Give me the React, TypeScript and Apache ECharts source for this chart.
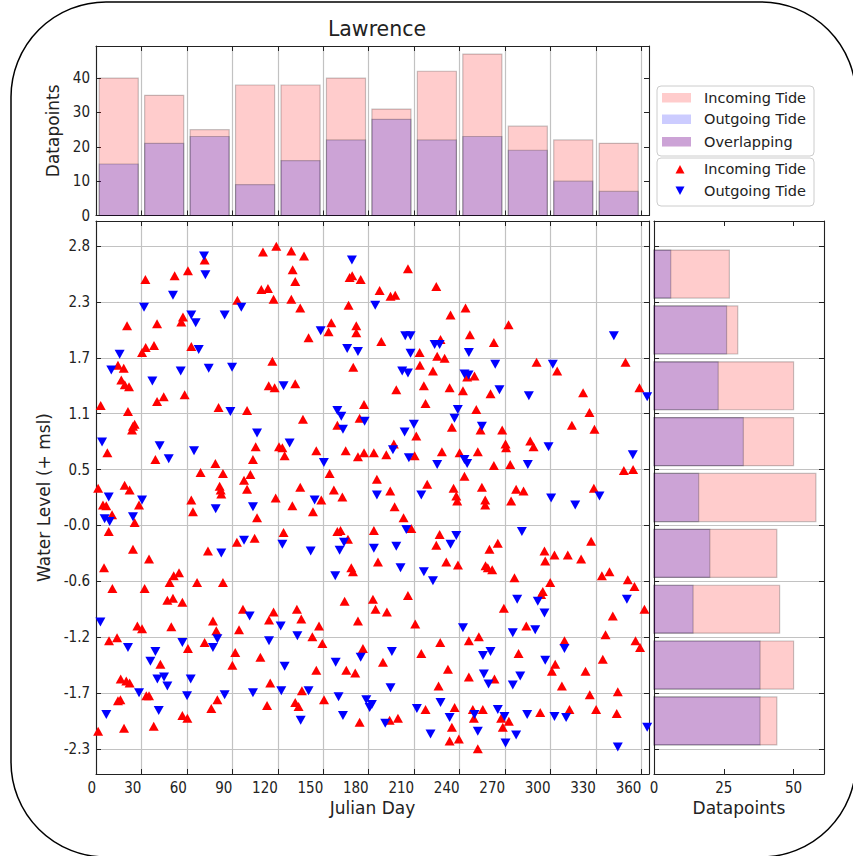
import React, { useEffect, useRef } from "react";
import * as echarts from "echarts";

// ---------------- data ----------------
const TITLE = "Lawrence";

const DAY_TICKS = [0, 30, 60, 90, 120, 150, 180, 210, 240, 270, 300, 330, 360];
const DAY_BIN_EDGES = [0, 30, 60, 90, 120, 150, 180, 210, 240, 270, 300, 330, 360];
const DAY_HIST_INCOMING = [40, 35, 25, 38, 38, 40, 31, 42, 47, 26, 22, 21];
const DAY_HIST_OUTGOING = [15, 21, 23, 9, 16, 22, 28, 22, 23, 19, 10, 7];

const LEVEL_BIN_EDGES = [-2.29, -1.722, -1.154, -0.587, -0.019, 0.549, 1.117, 1.684, 2.252, 2.82];
const LEVEL_TICK_LABELS = ["-2.3", "-1.7", "-1.2", "-0.6", "-0.0", "0.5", "1.1", "1.7", "2.3", "2.8"];
// bins from lowest to highest water level
const LEVEL_HIST_INCOMING = [44, 50, 45, 44, 58, 50, 50, 30, 27];
const LEVEL_HIST_OUTGOING = [38, 38, 14, 20, 16, 32, 23, 26, 6];

const TOP_COUNT_TICKS = [0, 10, 20, 30, 40];
const RIGHT_COUNT_TICKS = [0, 25, 50];

const DAY_RANGE = [0, 365];
const LEVEL_RANGE = [-2.5455, 3.0755];
const TOP_COUNT_MAX = 49.35;
const RIGHT_COUNT_MAX = 60.9;

// [julian day, water level]
const INCOMING_POINTS = [
  [110.2, 2.76], [119.0, 2.82], [128.9, 2.77], [137.3, 2.72], [71.7, 2.68], [60.7, 2.57], [51.9, 2.52], [32.6, 2.48],
  [129.8, 2.58], [131.5, 2.46], [109.1, 2.38], [113.5, 2.39], [117.2, 2.28], [128.9, 2.28], [134.8, 2.19], [93.3, 2.27],
  [167.4, 2.5], [169.1, 2.52], [174.7, 2.48], [166.7, 2.22], [155.3, 2.04], [153.5, 1.95], [171.8, 2.01], [171.8, 1.94],
  [140.3, 1.89], [20.5, 2.01], [40.3, 2.03], [57.4, 2.1], [56.3, 2.05], [62.9, 1.8], [32.8, 1.79], [30.4, 1.74],
  [38.3, 1.81], [116.4, 1.65], [169.8, 1.59], [14.5, 1.61], [18.3, 1.58], [16.7, 1.46], [19.0, 1.41], [21.8, 1.39],
  [114.0, 1.4], [117.9, 1.38], [131.5, 1.42], [58.5, 1.31], [44.7, 1.29], [40.3, 1.24],
  [205.9, 2.59], [187.2, 2.37], [194.4, 2.31], [197.5, 2.32], [224.6, 2.41], [234.0, 2.12], [243.9, 2.19], [272.3, 2.02],
  [188.3, 1.85], [227.4, 1.87], [246.8, 1.92], [262.6, 1.84], [213.6, 1.74], [225.2, 1.7], [230.1, 1.68], [213.8, 1.61],
  [222.4, 1.55], [245.0, 1.49], [249.8, 1.5], [290.8, 1.64], [304.4, 1.55], [349.5, 1.64], [198.2, 1.36], [216.4, 1.4],
  [233.4, 1.38], [242.2, 1.35], [260.4, 1.32], [321.5, 1.33], [358.7, 1.38],
  [3.1, 1.2], [21.1, 1.14], [24.4, 0.99], [25.5, 1.01], [23.8, 0.95], [80.9, 1.18], [99.7, 1.15], [136.6, 1.06],
  [176.9, 1.21], [174.0, 1.07], [159.3, 1.0], [7.5, 0.72], [39.2, 0.65], [105.4, 0.78], [103.6, 0.65], [120.8, 0.78],
  [123.0, 0.77], [124.5, 0.69], [145.4, 0.74], [164.8, 0.74], [172.9, 0.68], [176.9, 0.72], [69.0, 0.52], [78.8, 0.61],
  [83.8, 0.51], [81.6, 0.38], [82.3, 0.34], [82.7, 0.3], [97.7, 0.44], [101.9, 0.5], [99.7, 0.35], [154.2, 0.51],
  [18.9, 0.39], [22.2, 0.34], [1.4, 0.36], [4.6, 0.19], [6.8, 0.18], [10.6, 0.09], [28.4, 0.19], [25.5, 0.01],
  [62.9, 0.24], [64.0, 0.12], [106.3, 0.06], [118.6, 0.26], [129.6, 0.18], [134.8, 0.37], [143.2, 0.12], [148.7, 0.24],
  [157.0, 0.34], [162.6, 0.27], [8.4, -0.08], [24.4, -0.26], [35.0, -0.36], [5.3, -0.45], [73.9, -0.28], [93.0, -0.19],
  [104.7, -0.15], [123.8, -0.09], [159.3, -0.08], [161.4, -0.07], [166.3, -0.16], [168.5, -0.45], [169.6, -0.49],
  [51.3, -0.53], [54.8, -0.5],
  [217.5, 1.22], [251.0, 1.16], [325.7, 1.13], [211.4, 0.89], [234.9, 0.98], [253.8, 0.95], [268.1, 0.95], [270.3, 0.81],
  [270.7, 0.77], [286.6, 0.84], [288.8, 0.78], [314.1, 1.0], [329.0, 0.96], [183.4, 0.72], [191.6, 0.7], [196.6, 0.81],
  [210.3, 0.69], [228.3, 0.73], [240.0, 0.72], [252.0, 0.73], [262.6, 0.59], [273.4, 0.6], [348.4, 0.54], [354.5, 0.55],
  [185.4, 0.45], [194.2, 0.33], [218.6, 0.4], [236.0, 0.36], [237.8, 0.28], [238.4, 0.23], [243.2, 0.48], [254.7, 0.37],
  [256.9, 0.24], [256.9, 0.19], [274.0, 0.23], [277.3, 0.35], [282.2, 0.33], [328.6, 0.36], [197.1, 0.17], [203.0, 0.06],
  [208.1, -0.05], [183.4, -0.07], [226.8, -0.11], [224.6, -0.22], [265.2, -0.2], [259.7, -0.26], [186.1, -0.39],
  [231.2, -0.39], [238.9, -0.42], [258.6, -0.45], [261.5, -0.47], [257.1, -0.43], [276.2, -0.55], [296.0, -0.28],
  [302.6, -0.32], [296.5, -0.38], [311.4, -0.32], [320.2, -0.36], [326.8, -0.18], [333.9, -0.53], [338.9, -0.49],
  [351.0, -0.57], [355.4, -0.64], [299.8, -0.6],
  [10.8, -0.66], [32.1, -0.66], [48.6, -0.6], [66.7, -0.6], [83.8, -0.6], [47.1, -0.78], [50.8, -0.76], [57.0, -0.8],
  [27.3, -1.04], [30.4, -1.07], [49.7, -1.05], [8.6, -1.19], [13.9, -1.16], [77.2, -0.99], [79.4, -1.09], [71.7, -1.21],
  [60.7, -1.27], [42.5, -1.43], [16.3, -1.58], [20.0, -1.6], [22.2, -1.62], [16.1, -1.79], [14.5, -1.8], [33.2, -1.75],
  [35.0, -1.75], [38.1, -2.06], [18.5, -2.08], [1.4, -2.11], [57.0, -1.95], [60.3, -1.98], [76.1, -1.88], [80.1, -1.79],
  [90.0, -1.44], [91.9, -1.31], [94.4, -1.08], [97.0, -0.87], [108.5, -1.36], [112.9, -1.85], [115.0, -1.62],
  [114.2, -0.98], [117.2, -0.9], [132.6, -0.87], [135.5, -0.97], [131.5, -1.82], [133.7, -1.86], [135.9, -1.7],
  [142.8, -1.15], [147.2, -1.04], [149.4, -1.22], [145.4, -1.49], [150.5, -1.79], [164.1, -0.79], [165.2, -1.49],
  [171.1, -1.52], [176.2, -1.27], [172.9, -0.99], [174.0, -2.02],
  [182.8, -0.77], [184.5, -0.87], [192.0, -0.9], [205.9, -0.73], [210.7, -1.02], [227.2, -1.21], [214.7, -1.32],
  [189.4, -1.41], [232.3, -1.48], [246.1, -1.19], [252.7, -1.15], [226.1, -1.65], [246.1, -1.56], [263.0, -1.58],
  [269.2, -0.86], [278.9, -1.32], [284.0, -1.04], [294.9, -0.69], [293.8, -0.72], [309.2, -1.19], [303.1, -1.43],
  [300.9, -1.5], [307.5, -1.65], [323.1, -1.5], [334.5, -1.38], [336.3, -1.13], [341.1, -0.94], [325.9, -1.74],
  [344.4, -1.71], [356.1, -1.19], [359.1, -1.26], [362.0, -0.87], [217.5, -1.89], [199.3, -1.98], [193.8, -2.0],
  [236.7, -1.87], [234.9, -2.07], [233.4, -2.21], [239.5, -2.19], [248.7, -1.89], [249.4, -1.98], [255.3, -1.89],
  [252.0, -2.29], [267.4, -1.98], [272.5, -2.01], [268.5, -2.07], [293.2, -1.92], [312.5, -1.89], [330.1, -1.89],
  [343.7, -1.93],
];

const OUTGOING_POINTS = [
  [71.3, 2.72], [72.2, 2.53], [168.9, 2.68], [50.8, 2.32], [31.7, 2.2], [95.9, 2.2], [84.9, 2.12], [62.9, 2.12],
  [65.8, 2.04], [67.8, 1.77], [148.3, 1.96], [165.8, 1.78], [172.9, 1.75], [15.6, 1.72], [10.1, 1.56], [55.9, 1.55],
  [74.4, 1.58], [89.8, 1.59], [37.2, 1.45], [123.8, 1.4],
  [184.3, 2.22], [204.1, 1.91], [207.6, 1.91], [207.6, 1.73], [223.5, 1.82], [226.8, 1.82], [246.1, 1.74], [202.1, 1.55],
  [205.9, 1.53], [243.2, 1.52], [245.9, 1.51], [263.5, 1.62], [301.5, 1.62], [266.3, 1.36], [285.7, 1.3], [341.8, 1.91],
  [363.8, 1.29],
  [88.7, 1.14], [159.3, 1.15], [161.9, 1.09], [163.0, 0.96], [177.3, 1.04], [106.3, 0.92], [4.0, 0.83], [42.0, 0.79],
  [48.0, 0.66], [64.7, 0.74], [127.8, 0.82], [150.4, 0.62], [8.4, 0.27], [30.4, 0.24], [5.7, 0.05], [9.0, 0.02],
  [24.4, 0.07], [79.0, 0.15], [103.6, 0.17], [144.3, 0.24], [97.7, -0.17], [82.7, -0.3], [123.0, -0.21], [141.7, -0.28],
  [160.8, -0.27], [163.7, -0.19], [157.9, -0.53],
  [238.8, 1.16], [236.6, 1.07], [209.8, 1.01], [203.7, 0.93], [254.7, 0.99], [196.0, 0.75], [206.5, 0.67], [225.2, 0.6],
  [243.2, 0.65], [245.0, 0.61], [285.0, 0.6], [298.7, 0.78], [354.3, 0.7], [185.4, 0.29], [214.7, 0.29], [300.4, 0.26],
  [316.3, 0.19], [332.3, 0.28], [204.8, -0.06], [281.1, -0.08], [237.8, -0.12], [234.0, -0.21], [183.4, -0.25],
  [198.2, -0.23], [201.0, -0.45], [216.4, -0.49], [222.4, -0.58],
  [2.9, -1.0], [21.1, -1.26], [35.9, -1.4], [39.2, -1.3], [40.5, -1.58], [44.9, -1.56], [47.1, -1.65], [28.4, -1.72],
  [6.8, -1.94], [41.4, -1.9], [57.0, -1.21], [62.5, -1.58], [60.1, -1.75], [77.2, -1.26], [80.1, -1.17], [84.9, -1.74],
  [101.4, -0.94], [103.6, -1.72], [114.2, -1.19], [121.9, -1.04], [124.5, -1.45], [122.3, -1.7], [132.9, -1.14],
  [140.3, -1.7], [135.1, -2.0], [158.2, -1.41], [160.1, -1.76], [163.0, -1.95], [174.7, -1.36], [178.4, -1.79],
  [242.2, -1.06], [275.1, -1.11], [278.0, -0.77], [291.6, -0.79], [296.0, -0.91], [289.9, -1.08], [195.3, -1.3],
  [255.4, -1.34], [260.4, -1.3], [296.5, -1.39], [309.2, -1.27], [256.0, -1.53], [259.1, -1.63], [280.0, -1.55],
  [275.1, -1.64], [194.4, -1.67], [182.1, -1.84], [180.6, -1.87], [211.8, -1.88], [227.4, -1.82], [233.4, -1.97],
  [249.8, -1.94], [265.2, -1.89], [269.6, -1.96], [284.6, -1.94], [302.6, -1.96], [310.3, -1.97], [190.9, -2.03],
  [220.8, -2.14], [252.0, -2.11], [277.3, -2.15], [270.3, -2.23], [344.4, -2.27], [350.4, -0.77], [363.8, -2.07],
];

// ---------------- styling ----------------
const FONT = "'DejaVu Sans', 'Noto Sans', sans-serif";
const TICK_FONT = "'DejaVu Sans Condensed', 'Liberation Sans Narrow', 'DejaVu Sans', sans-serif";
const TEXT = "#222";
const SPINE = "#222";
const GRIDLINE = "#c2c2c2";
const RED_A = "rgba(255,0,0,0.2)";
const BLUE_A = "rgba(0,0,255,0.2)";
const EDGE = "rgba(0,0,0,0.22)";
const RWIDTH = 0.86;

const G_TOP = { left: 96, top: 46, width: 553, height: 169.5 };
const G_MAIN = { left: 96, top: 221, width: 553, height: 553 };
const G_RIGHT = { left: 654, top: 221, width: 170, height: 553 };

function mkBins(edges: number[], counts: number[]) {
  return counts.map((c, i) => [edges[i], edges[i + 1], c]);
}

function vBar(fill: string) {
  return (_p: any, api: any) => {
    const lo = api.value(0), hi = api.value(1), n = api.value(2);
    const pad = ((hi - lo) * (1 - RWIDTH)) / 2;
    const a = api.coord([lo + pad, n]);
    const b = api.coord([hi - pad, 0]);
    return {
      type: "rect",
      shape: { x: a[0], y: a[1], width: b[0] - a[0], height: b[1] - a[1] },
      style: { fill, stroke: EDGE, lineWidth: 1.2 },
    };
  };
}

function hBar(fill: string) {
  return (_p: any, api: any) => {
    const lo = api.value(0), hi = api.value(1), n = api.value(2);
    const pad = ((hi - lo) * (1 - RWIDTH)) / 2;
    const a = api.coord([0, hi - pad]);
    const b = api.coord([n, lo + pad]);
    return {
      type: "rect",
      shape: { x: a[0], y: a[1], width: b[0] - a[0], height: b[1] - a[1] },
      style: { fill, stroke: EDGE, lineWidth: 1.2 },
    };
  };
}

function nearestLabel(v: number) {
  let best = 0;
  for (let i = 1; i < LEVEL_BIN_EDGES.length; i++) {
    if (Math.abs(LEVEL_BIN_EDGES[i] - v) < Math.abs(LEVEL_BIN_EDGES[best] - v)) best = i;
  }
  return LEVEL_TICK_LABELS[best];
}

const tickStyle = (vals: number[]) => ({
  show: true,
  inside: true,
  length: 5,
  customValues: vals,
  lineStyle: { color: SPINE, width: 1 },
});
const lineStyle = { show: true, onZero: false, lineStyle: { color: SPINE, width: 1.1 } };
const labelStyle = (vals: number[], extra: any = {}) => ({
  show: true,
  customValues: vals,
  color: TEXT,
  fontFamily: TICK_FONT,
  fontSize: 15,
  margin: 6,
  ...extra,
});

function mirrorAxis(gridIndex: number, position: string, min: number, max: number, ticks: number[]) {
  return {
    type: "value",
    gridIndex,
    position,
    min,
    max,
    axisLine: lineStyle,
    axisTick: tickStyle(ticks),
    axisLabel: { show: false, customValues: ticks },
    splitLine: { show: false },
  };
}

export default function App() {
  const ref = useRef<HTMLDivElement>(null);

  useEffect(() => {
    if (!ref.current) return;
    const chart = echarts.init(ref.current, undefined, { renderer: "svg" });

    const nameStyle = { color: TEXT, fontFamily: FONT, fontSize: 17 };

    const option: any = {
      animation: false,
      backgroundColor: "#ffffff",
      title: {
        text: TITLE,
        left: 372,
        top: 13,
        textAlign: "center",
        textStyle: { color: TEXT, fontFamily: FONT, fontSize: 20.5, fontWeight: "normal" },
      },
      grid: [
        { ...G_TOP, show: false },
        { ...G_MAIN, show: false },
        { ...G_RIGHT, show: false },
      ],
      xAxis: [
        {
          type: "value", gridIndex: 0, position: "bottom", min: DAY_RANGE[0], max: DAY_RANGE[1],
          axisLine: lineStyle, axisTick: tickStyle(DAY_TICKS),
          axisLabel: { show: false, customValues: DAY_TICKS },
          splitLine: { show: true, lineStyle: { color: GRIDLINE, width: 1.2 } },
        },
        mirrorAxis(0, "top", DAY_RANGE[0], DAY_RANGE[1], DAY_TICKS),
        {
          type: "value", gridIndex: 1, position: "bottom", min: DAY_RANGE[0], max: DAY_RANGE[1],
          name: "Julian Day", nameLocation: "middle", nameGap: 24, nameTextStyle: nameStyle,
          axisLine: lineStyle, axisTick: tickStyle(DAY_TICKS),
          axisLabel: labelStyle(DAY_TICKS, { align: "right" }),
          splitLine: { show: true, lineStyle: { color: GRIDLINE, width: 1.2 } },
        },
        mirrorAxis(1, "top", DAY_RANGE[0], DAY_RANGE[1], DAY_TICKS),
        {
          type: "value", gridIndex: 2, position: "bottom", min: 0, max: RIGHT_COUNT_MAX,
          name: "Datapoints", nameLocation: "middle", nameGap: 24, nameTextStyle: nameStyle,
          axisLine: lineStyle, axisTick: tickStyle(RIGHT_COUNT_TICKS),
          axisLabel: labelStyle(RIGHT_COUNT_TICKS),
          splitLine: { show: false },
        },
        mirrorAxis(2, "top", 0, RIGHT_COUNT_MAX, RIGHT_COUNT_TICKS),
      ],
      yAxis: [
        {
          type: "value", gridIndex: 0, position: "left", min: 0, max: TOP_COUNT_MAX,
          name: "Datapoints", nameLocation: "middle", nameGap: 27, nameTextStyle: nameStyle,
          axisLine: lineStyle, axisTick: tickStyle(TOP_COUNT_TICKS),
          axisLabel: labelStyle(TOP_COUNT_TICKS),
          splitLine: { show: false },
        },
        mirrorAxis(0, "right", 0, TOP_COUNT_MAX, TOP_COUNT_TICKS),
        {
          type: "value", gridIndex: 1, position: "left", min: LEVEL_RANGE[0], max: LEVEL_RANGE[1],
          name: "Water Level (+ msl)", nameLocation: "middle", nameGap: 44, nameTextStyle: nameStyle,
          axisLine: lineStyle, axisTick: tickStyle(LEVEL_BIN_EDGES),
          axisLabel: labelStyle(LEVEL_BIN_EDGES, { formatter: (v: number) => nearestLabel(v) }),
          splitLine: { show: true, lineStyle: { color: GRIDLINE, width: 1.2 } },
        },
        mirrorAxis(1, "right", LEVEL_RANGE[0], LEVEL_RANGE[1], LEVEL_BIN_EDGES),
        {
          type: "value", gridIndex: 2, position: "left", min: LEVEL_RANGE[0], max: LEVEL_RANGE[1],
          axisLine: lineStyle, axisTick: tickStyle(LEVEL_BIN_EDGES),
          axisLabel: { show: false, customValues: LEVEL_BIN_EDGES },
          splitLine: { show: true, lineStyle: { color: GRIDLINE, width: 1.2 } },
        },
        mirrorAxis(2, "right", LEVEL_RANGE[0], LEVEL_RANGE[1], LEVEL_BIN_EDGES),
      ],
      series: [
        {
          type: "custom", name: "Incoming Tide (days)", xAxisIndex: 0, yAxisIndex: 0,
          data: mkBins(DAY_BIN_EDGES, DAY_HIST_INCOMING), encode: { x: [0, 1], y: 2 },
          renderItem: vBar(RED_A), silent: true,
        },
        {
          type: "custom", name: "Outgoing Tide (days)", xAxisIndex: 0, yAxisIndex: 0,
          data: mkBins(DAY_BIN_EDGES, DAY_HIST_OUTGOING), encode: { x: [0, 1], y: 2 },
          renderItem: vBar(BLUE_A), silent: true,
        },
        {
          type: "custom", name: "Incoming Tide (levels)", xAxisIndex: 4, yAxisIndex: 4,
          data: mkBins(LEVEL_BIN_EDGES, LEVEL_HIST_INCOMING), encode: { y: [0, 1], x: 2 },
          renderItem: hBar(RED_A), silent: true,
        },
        {
          type: "custom", name: "Outgoing Tide (levels)", xAxisIndex: 4, yAxisIndex: 4,
          data: mkBins(LEVEL_BIN_EDGES, LEVEL_HIST_OUTGOING), encode: { y: [0, 1], x: 2 },
          renderItem: hBar(BLUE_A), silent: true,
        },
        {
          type: "scatter", name: "Incoming Tide", xAxisIndex: 2, yAxisIndex: 2,
          data: INCOMING_POINTS, symbol: "triangle", symbolSize: [10, 9],
          itemStyle: { color: "#ff0000", opacity: 1 }, silent: true,
        },
        {
          type: "scatter", name: "Outgoing Tide", xAxisIndex: 2, yAxisIndex: 2,
          data: OUTGOING_POINTS, symbol: "triangle", symbolSize: [10, 9], symbolRotate: 180,
          itemStyle: { color: "#0000ff", opacity: 1 }, silent: true,
        },
      ],
      graphic: [
        {
          type: "rect", silent: true, z: 100,
          shape: { x: 11, y: 2, width: 845, height: 855, r: 95 },
          style: { fill: "none", stroke: "#000", lineWidth: 1.5 },
        },
        // legend box 1 (histogram patches)
        {
          type: "group", z: 100, silent: true,
          children: [
            { type: "rect", shape: { x: 657, y: 86, width: 157, height: 70, r: 4 }, style: { fill: "#fff", stroke: "#cccccc", lineWidth: 1 } },
            { type: "rect", shape: { x: 662, y: 93, width: 29, height: 9.5 }, style: { fill: RED_A } },
            { type: "text", x: 704, y: 97.7, style: { text: "Incoming Tide", fill: TEXT, font: `14.5px ${FONT}`, verticalAlign: "middle" } },
            { type: "rect", shape: { x: 662, y: 114.5, width: 29, height: 9.5 }, style: { fill: BLUE_A } },
            { type: "text", x: 704, y: 119.3, style: { text: "Outgoing Tide", fill: TEXT, font: `14.5px ${FONT}`, verticalAlign: "middle" } },
            { type: "rect", shape: { x: 662, y: 137, width: 29, height: 9.5 }, style: { fill: RED_A } },
            { type: "rect", shape: { x: 662, y: 137, width: 29, height: 9.5 }, style: { fill: BLUE_A } },
            { type: "text", x: 704, y: 141.7, style: { text: "Overlapping", fill: TEXT, font: `14.5px ${FONT}`, verticalAlign: "middle" } },
          ],
        },
        // legend box 2 (scatter markers)
        {
          type: "group", z: 100, silent: true,
          children: [
            { type: "rect", shape: { x: 657, y: 158, width: 157, height: 48, r: 4 }, style: { fill: "#fff", stroke: "#cccccc", lineWidth: 1 } },
            { type: "polygon", shape: { points: [[675.5, 173.5], [684.5, 173.5], [680, 165]] }, style: { fill: "#ff0000" } },
            { type: "text", x: 704, y: 169, style: { text: "Incoming Tide", fill: TEXT, font: `14.5px ${FONT}`, verticalAlign: "middle" } },
            { type: "polygon", shape: { points: [[675.5, 186.5], [684.5, 186.5], [680, 195]] }, style: { fill: "#0000ff" } },
            { type: "text", x: 704, y: 190.7, style: { text: "Outgoing Tide", fill: TEXT, font: `14.5px ${FONT}`, verticalAlign: "middle" } },
          ],
        },
      ],
    };

    chart.setOption(option);
    return () => chart.dispose();
  }, []);

  return (
    <div
      ref={ref}
      style={{ position: "fixed", left: 0, top: 0, width: 853, height: 856, background: "#fff" }}
    />
  );
}
